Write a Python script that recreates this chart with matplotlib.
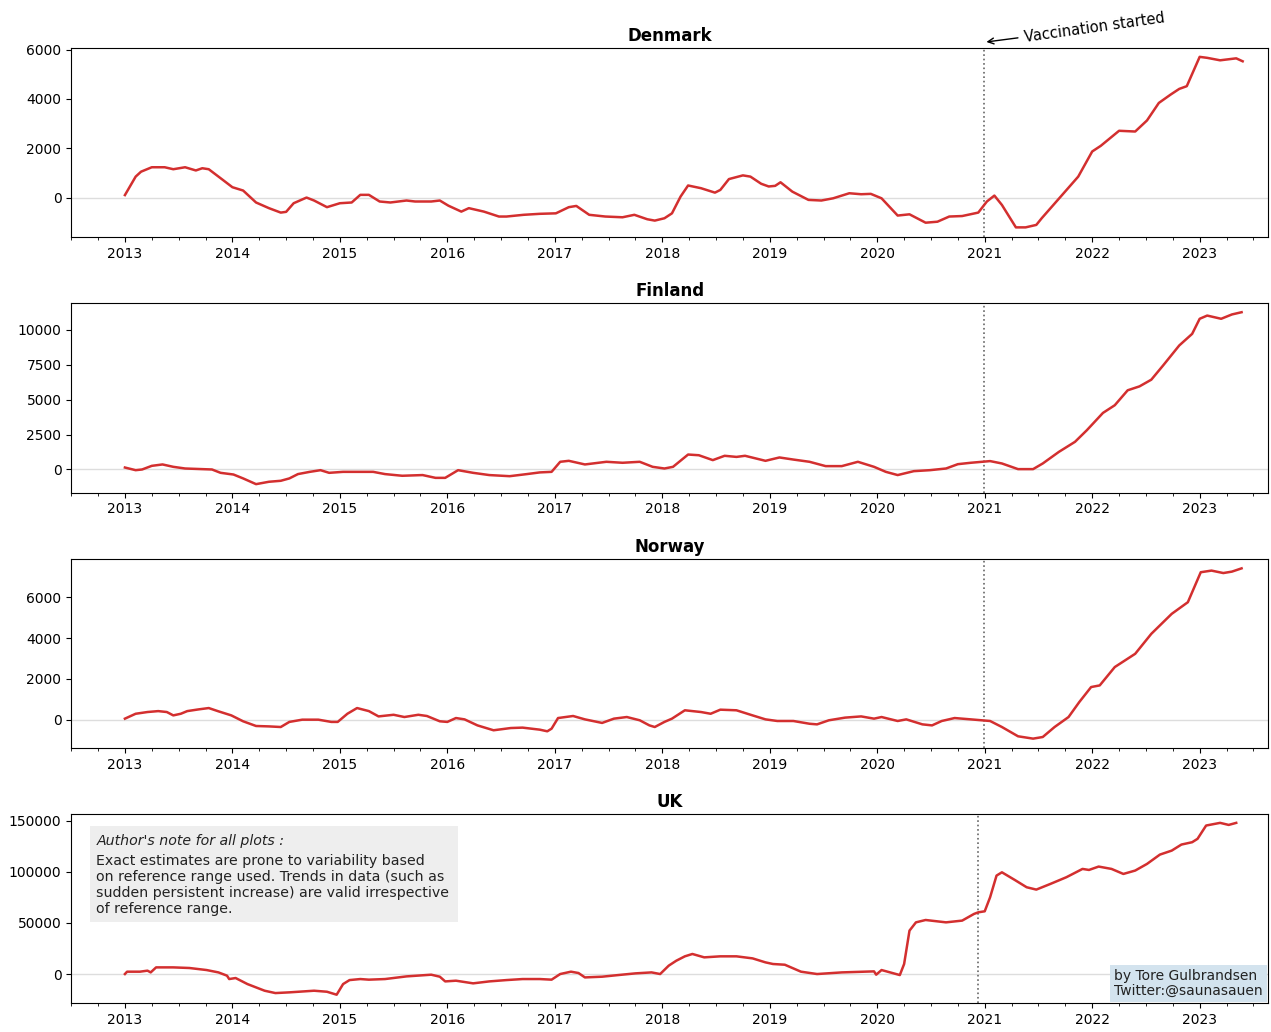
import matplotlib
matplotlib.use('Agg')
import matplotlib.pyplot as plt
from matplotlib.ticker import MultipleLocator
from matplotlib.patches import Rectangle

# values, x in decimal years
dk_x = [2013.0, 2013.1, 2013.15, 2013.25, 2013.37, 2013.45, 2013.56, 2013.66, 2013.72, 2013.78,
        2013.91, 2014.0, 2014.1, 2014.22, 2014.34, 2014.45, 2014.5, 2014.57, 2014.69, 2014.76,
        2014.88, 2015.0, 2015.11, 2015.19, 2015.27, 2015.37, 2015.47, 2015.62, 2015.7, 2015.85,
        2015.93, 2016.01, 2016.13, 2016.2, 2016.34, 2016.48, 2016.55, 2016.71, 2016.86, 2017.01,
        2017.13, 2017.2, 2017.32, 2017.47, 2017.63, 2017.74, 2017.86, 2017.93, 2018.02, 2018.09,
        2018.17, 2018.24, 2018.36, 2018.49, 2018.54, 2018.62, 2018.75, 2018.82, 2018.92, 2018.99,
        2019.05, 2019.1, 2019.21, 2019.36, 2019.48, 2019.59, 2019.74, 2019.85, 2019.94, 2020.04,
        2020.19, 2020.3, 2020.45, 2020.56, 2020.67, 2020.79, 2020.94, 2021.02, 2021.09, 2021.16,
        2021.29, 2021.38, 2021.48, 2021.53, 2021.68, 2021.87, 2022.0, 2022.08, 2022.25, 2022.4,
        2022.51, 2022.62, 2022.73, 2022.81, 2022.88, 2023.0, 2023.07, 2023.19, 2023.34, 2023.4]
dk_y = [100, 850, 1050, 1230, 1230, 1150, 1230, 1100, 1190, 1150,
        720, 420, 285, -200, -430, -610, -580, -230, 0, -120,
        -390, -230, -200, 110, 110, -160, -200, -120, -160, -160,
        -120, -330, -570, -430, -570, -770, -770, -700, -660, -640,
        -390, -340, -700, -770, -800, -700, -880, -935, -840, -640,
        40, 490, 380, 200, 310, 750, 900, 850, 560, 450,
        475, 620, 240, -95, -120, -30, 175, 135, 150, -30,
        -730, -680, -1020, -980, -770, -750, -610, -160, 80, -300,
        -1210, -1210, -1110, -840, -95, 850, 1870, 2100, 2710, 2680,
        3130, 3840, 4180, 4410, 4520, 5710, 5670, 5570, 5650, 5530]

fi_x = [2013.0, 2013.1, 2013.16, 2013.25, 2013.35, 2013.45, 2013.56, 2013.72, 2013.81, 2013.89,
        2014.01, 2014.1, 2014.22, 2014.34, 2014.45, 2014.53, 2014.61, 2014.72, 2014.82, 2014.9,
        2015.03, 2015.15, 2015.31, 2015.42, 2015.58, 2015.77, 2015.89, 2015.98, 2016.1, 2016.24,
        2016.39, 2016.58, 2016.74, 2016.86, 2016.97, 2017.05, 2017.13, 2017.28, 2017.48, 2017.63,
        2017.79, 2017.91, 2018.02, 2018.1, 2018.24, 2018.34, 2018.47, 2018.58, 2018.69, 2018.77,
        2018.96, 2019.09, 2019.22, 2019.37, 2019.52, 2019.67, 2019.82, 2019.97, 2020.08, 2020.19,
        2020.34, 2020.49, 2020.64, 2020.75, 2020.87, 2021.05, 2021.16, 2021.31, 2021.45, 2021.54,
        2021.69, 2021.84, 2021.95, 2022.1, 2022.21, 2022.33, 2022.44, 2022.55, 2022.66, 2022.81,
        2022.93, 2023.0, 2023.07, 2023.2, 2023.3, 2023.39]
fi_y = [140, -50, 0, 260, 360, 190, 70, 25, 0, -240,
        -360, -640, -1050, -880, -810, -640, -330, -170, -50, -240,
        -170, -170, -170, -330, -450, -400, -600, -600, -50, -240,
        -400, -480, -330, -210, -170, 550, 620, 360, 550, 480,
        550, 190, 70, 190, 1070, 1020, 670, 980, 900, 980,
        620, 860, 710, 550, 240, 240, 550, 190, -170, -400,
        -120, -50, 70, 380, 480, 600, 430, 25, 25, 430,
        1260, 1980, 2810, 4050, 4600, 5670, 5950, 6430, 7450, 8880,
        9710, 10790, 11020, 10790, 11100, 11260]

no_x = [2013.0, 2013.1, 2013.21, 2013.31, 2013.39, 2013.45, 2013.52, 2013.58, 2013.68, 2013.78,
        2013.87, 2013.99, 2014.1, 2014.22, 2014.34, 2014.45, 2014.53, 2014.65, 2014.8, 2014.92,
        2014.98, 2015.07, 2015.16, 2015.27, 2015.36, 2015.5, 2015.6, 2015.73, 2015.81, 2015.93,
        2016.0, 2016.08, 2016.16, 2016.28, 2016.43, 2016.59, 2016.7, 2016.86, 2016.93, 2016.97,
        2017.03, 2017.17, 2017.28, 2017.44, 2017.55, 2017.67, 2017.79, 2017.88, 2017.93, 2018.02,
        2018.09, 2018.21, 2018.36, 2018.45, 2018.54, 2018.69, 2018.84, 2018.96, 2019.07, 2019.22,
        2019.37, 2019.44, 2019.55, 2019.7, 2019.85, 2019.97, 2020.04, 2020.19, 2020.27, 2020.42,
        2020.51, 2020.6, 2020.72, 2020.87, 2021.05, 2021.16, 2021.31, 2021.45, 2021.54, 2021.65,
        2021.78, 2021.88, 2021.99, 2022.07, 2022.21, 2022.4, 2022.55, 2022.74, 2022.89, 2023.01,
        2023.11, 2023.22, 2023.3, 2023.39]
no_y = [50, 290, 375, 420, 375, 210, 290, 420, 500, 570,
        410, 210, -80, -310, -330, -360, -110, 0, 0, -110,
        -110, 290, 570, 420, 160, 240, 130, 240, 180, -80,
        -110, 80, 15, -280, -520, -410, -390, -490, -570, -440,
        80, 180, 15, -160, 50, 130, -30, -280, -360, -110,
        50, 460, 375, 290, 490, 460, 210, 15, -65, -65,
        -200, -230, -30, 100, 160, 50, 130, -65, 15, -230,
        -280, -65, 80, 15, -65, -360, -815, -930, -850, -360,
        130, 865, 1600, 1680, 2580, 3230, 4210, 5190, 5760, 7230,
        7310, 7190, 7260, 7420]

uk_x = [2013.0, 2013.02, 2013.14, 2013.21, 2013.24, 2013.29, 2013.45, 2013.6, 2013.76, 2013.87,
        2013.95, 2013.97, 2014.03, 2014.14, 2014.3, 2014.4, 2014.53, 2014.76, 2014.88, 2014.97,
        2015.03, 2015.09, 2015.19, 2015.27, 2015.42, 2015.62, 2015.85, 2015.93, 2015.98, 2016.08,
        2016.24, 2016.39, 2016.55, 2016.7, 2016.86, 2016.97, 2017.05, 2017.15, 2017.22, 2017.28,
        2017.44, 2017.59, 2017.75, 2017.9, 2017.98, 2018.06, 2018.13, 2018.21, 2018.28, 2018.39,
        2018.54, 2018.69, 2018.84, 2018.96, 2019.03, 2019.14, 2019.29, 2019.44, 2019.67, 2019.97,
        2019.99, 2020.04, 2020.12, 2020.21, 2020.25, 2020.3, 2020.36, 2020.45, 2020.64, 2020.79,
        2020.9, 2020.94, 2021.0, 2021.05, 2021.11, 2021.16, 2021.28, 2021.39, 2021.48, 2021.61,
        2021.76, 2021.91, 2021.97, 2022.06, 2022.18, 2022.29, 2022.4, 2022.51, 2022.63, 2022.74,
        2022.83, 2022.93, 2022.98, 2023.06, 2023.19, 2023.27, 2023.34]
uk_y = [0, 2300, 2300, 3300, 1600, 6500, 6500, 5900, 3900, 1600,
        -1600, -4900, -3900, -9800, -16300, -18600, -17900, -16300, -17300, -20200,
        -9800, -5900, -4900, -5500, -4900, -2300, -650, -2600, -7200, -6500,
        -9100, -7200, -5900, -4900, -4900, -5500, 0, 2300, 1000, -3300,
        -2600, -1000, 650, 1600, 0, 8200, 13000, 17300, 19600, 16300,
        17300, 17300, 15300, 11400, 9800, 9100, 2300, 0, 1600, 2600,
        -650, 3900, 1600, -1000, 9800, 42400, 50500, 52800, 50500, 52200,
        58700, 60300, 61300, 75000, 96200, 99400, 91900, 84800, 82500, 88000,
        94600, 102700, 101700, 105000, 102700, 97800, 101100, 107600, 116700, 120600,
        126500, 128800, 132100, 145100, 147700, 145700, 147700]

countries = ['Denmark', 'Finland', 'Norway', 'UK']
series_x = [dk_x, fi_x, no_x, uk_x]
series_y = [dk_y, fi_y, no_y, uk_y]
vacc_start = [2020.99, 2020.99, 2020.99, 2020.94]
ylims = [(-1610, 6070), (-1650, 11900), (-1380, 7900), (-28400, 156500)]

fig, axes = plt.subplots(4, 1, figsize=(12.71, 10.32), dpi=100)
fig.subplots_adjust(left=0.056, right=0.998, top=0.9535, bottom=0.028, hspace=0.349)

for ax, name, x, y, v, yl in zip(axes, countries, series_x, series_y, vacc_start, ylims):
    ax.axhline(0, color='#dddddd', lw=1, zorder=1)
    ax.plot(x, y, color='#d32f2f', lw=1.8, zorder=3)
    ax.axvline(v, color='#666666', ls=':', lw=1.2, zorder=2)
    ax.set_title(name, fontsize=12, fontweight='bold', pad=5)
    ax.set_xlim(2012.5, 2023.64)
    ax.set_ylim(*yl)
    ax.xaxis.set_major_locator(MultipleLocator(1))
    ax.xaxis.set_minor_locator(MultipleLocator(0.25))
    ax.xaxis.set_major_formatter(lambda val, pos: '%d' % round(val))
    ax.tick_params(labelsize=10)

axes[0].annotate('Vaccination started', xy=(vacc_start[0], 1.03),
                 xycoords=('data', 'axes fraction'),
                 xytext=(2021.38, 1.015), textcoords=('data', 'axes fraction'),
                 rotation=8, rotation_mode='anchor', ha='left', va='bottom', fontsize=10.5,
                 arrowprops=dict(arrowstyle='->', color='black', lw=1), annotation_clip=False)

# author's note: grey panel, italic header, body below
uk = axes[3]
uk.add_patch(Rectangle((0.016, 0.43), 0.307, 0.507, transform=uk.transAxes,
                       facecolor='#eeeeee', edgecolor='none', zorder=4))
uk.text(0.021, 0.895, "Author's note for all plots :", transform=uk.transAxes,
        fontsize=10.2, style='italic', va='top', ha='left', color='#222222', zorder=5)
note_body = ("Exact estimates are prone to variability based\n"
             "on reference range used. Trends in data (such as\n"
             "sudden persistent increase) are valid irrespective\n"
             "of reference range.")
uk.text(0.021, 0.79, note_body, transform=uk.transAxes, fontsize=10.2,
        va='top', ha='left', color='#222222', zorder=5)

uk.text(0.995, 0.03, 'by Tore Gulbrandsen\nTwitter:@saunasauen', transform=uk.transAxes,
        fontsize=10, ha='right', va='bottom', multialignment='left', color='#222222',
        linespacing=1.0, zorder=5,
        bbox=dict(boxstyle='square,pad=0.3', facecolor='#d3e3ee', edgecolor='none'))

fig.savefig('out.png', dpi=100)
